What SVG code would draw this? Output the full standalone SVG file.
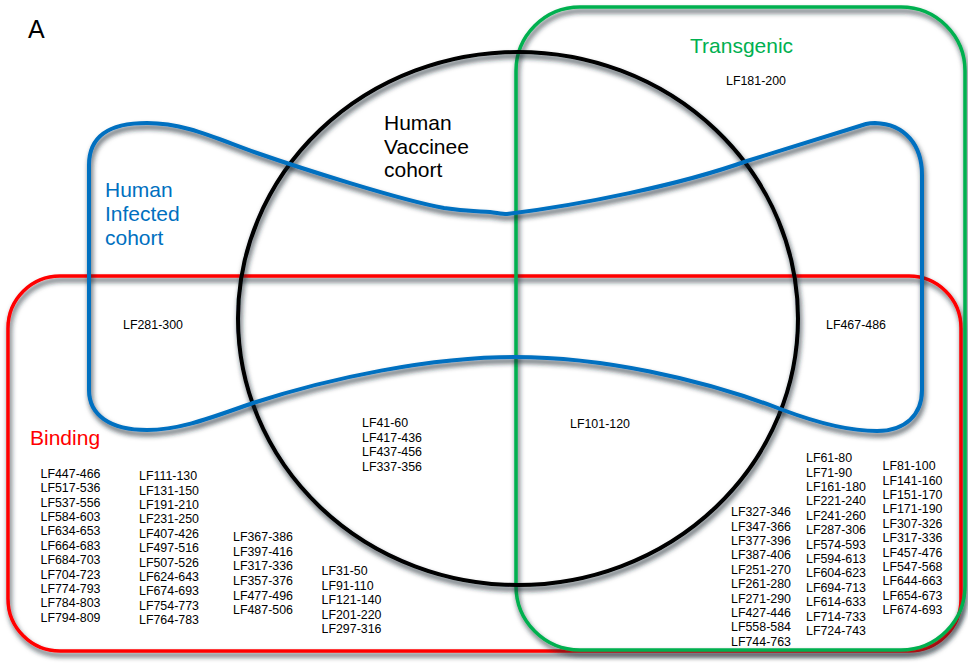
<svg xmlns="http://www.w3.org/2000/svg" width="968" height="664" viewBox="0 0 968 664">
<defs>
<filter id="sh" x="-10%" y="-10%" width="120%" height="125%">
<feDropShadow dx="1.5" dy="4" stdDeviation="2.5" flood-color="#1e2833" flood-opacity="0.8"/>
</filter>
<style>
.set{fill:none;filter:url(#sh)}
.lbl{font-family:"Liberation Sans",Arial,sans-serif;font-size:21px}
.lf{font-family:"Liberation Sans",Arial,sans-serif;font-size:12.4px;fill:#000}
</style>
</defs>
<rect width="968" height="664" fill="#fff"/>
<g id="binding">
<rect class="set" x="8" y="276" width="953" height="375" rx="52" ry="52" stroke="#ff0000" stroke-width="3.5"/>
</g>
<g id="transgenic">
<rect class="set" x="516" y="7" width="449" height="643" rx="64" ry="64" stroke="#00b050" stroke-width="3.5"/>
</g>
<g id="vaccinee">
<ellipse class="set" cx="518" cy="318.5" rx="280" ry="266.5" stroke="#000" stroke-width="4"/>
</g>
<g id="infected">
<path class="set" stroke="#0070c0" stroke-width="4" d="M89,390 L89,165 C89,135 110,123 147,123 C185,123 215,138 257,153 C300,168 400,200 444,208 C470,212 480,211 490,212 C498,213 502,214 507,214 C580,205 680,185 747,161 L866,124 C870,123 872,123 875,123 C905,124 922,145 922,175 L922,390 C922,415 905,431 877,431 C850,431 815,422 783,410 C700,378 600,357 515,357 C430,357 330,378 253,403 C210,418 180,430 147,430 C110,430 89,415 89,390 Z"/>
</g>
<g id="labels">
<text class="lbl" x="28" y="38" style="font-size:25px">A</text>
<text class="lbl" x="690" y="53" fill="#00b050">Transgenic</text>
<text class="lbl" fill="#000"><tspan x="384" y="130">Human</tspan><tspan x="384" y="153.5">Vaccinee</tspan><tspan x="384" y="177">cohort</tspan></text>
<text class="lbl" fill="#0070c0"><tspan x="105" y="197">Human</tspan><tspan x="105" y="221">Infected</tspan><tspan x="105" y="245">cohort</tspan></text>
<text class="lbl" x="30" y="445" fill="#ff0000">Binding</text>
</g>
<g id="epitopes">
<text class="lf" x="726" y="85">LF181-200</text>
<text class="lf" x="123" y="329">LF281-300</text>
<text class="lf" x="826" y="329">LF467-486</text>
<text class="lf" x="570" y="427.5">LF101-120</text>
<text class="lf"><tspan x="362" y="427">LF41-60</tspan><tspan x="362" y="441.7">LF417-436</tspan><tspan x="362" y="456.4">LF437-456</tspan><tspan x="362" y="471">LF337-356</tspan></text>
<text class="lf"><tspan x="40.5" y="477.8">LF447-466</tspan><tspan x="40.5" y="492.2">LF517-536</tspan><tspan x="40.5" y="506.6">LF537-556</tspan><tspan x="40.5" y="521">LF584-603</tspan><tspan x="40.5" y="535.4">LF634-653</tspan><tspan x="40.5" y="549.8">LF664-683</tspan><tspan x="40.5" y="564.2">LF684-703</tspan><tspan x="40.5" y="578.6">LF704-723</tspan><tspan x="40.5" y="593">LF774-793</tspan><tspan x="40.5" y="607.4">LF784-803</tspan><tspan x="40.5" y="621.8">LF794-809</tspan></text>
<text class="lf"><tspan x="139" y="480.2">LF111-130</tspan><tspan x="139" y="494.6">LF131-150</tspan><tspan x="139" y="509">LF191-210</tspan><tspan x="139" y="523.4">LF231-250</tspan><tspan x="139" y="537.8">LF407-426</tspan><tspan x="139" y="552.2">LF497-516</tspan><tspan x="139" y="566.6">LF507-526</tspan><tspan x="139" y="581">LF624-643</tspan><tspan x="139" y="595.4">LF674-693</tspan><tspan x="139" y="609.8">LF754-773</tspan><tspan x="139" y="624.2">LF764-783</tspan></text>
<text class="lf"><tspan x="233" y="541.2">LF367-386</tspan><tspan x="233" y="555.8">LF397-416</tspan><tspan x="233" y="570.4">LF317-336</tspan><tspan x="233" y="585">LF357-376</tspan><tspan x="233" y="599.6">LF477-496</tspan><tspan x="233" y="614.2">LF487-506</tspan></text>
<text class="lf"><tspan x="321.5" y="575.2">LF31-50</tspan><tspan x="321.5" y="589.7">LF91-110</tspan><tspan x="321.5" y="604.2">LF121-140</tspan><tspan x="321.5" y="618.7">LF201-220</tspan><tspan x="321.5" y="633.2">LF297-316</tspan></text>
<text class="lf"><tspan x="731" y="516.2">LF327-346</tspan><tspan x="731" y="530.6">LF347-366</tspan><tspan x="731" y="545">LF377-396</tspan><tspan x="731" y="559.4">LF387-406</tspan><tspan x="731" y="573.8">LF251-270</tspan><tspan x="731" y="588.2">LF261-280</tspan><tspan x="731" y="602.6">LF271-290</tspan><tspan x="731" y="617">LF427-446</tspan><tspan x="731" y="631.4">LF558-584</tspan><tspan x="731" y="645.8">LF744-763</tspan></text>
<text class="lf"><tspan x="806" y="462.2">LF61-80</tspan><tspan x="806" y="476.6">LF71-90</tspan><tspan x="806" y="491">LF161-180</tspan><tspan x="806" y="505.4">LF221-240</tspan><tspan x="806" y="519.8">LF241-260</tspan><tspan x="806" y="534.2">LF287-306</tspan><tspan x="806" y="548.6">LF574-593</tspan><tspan x="806" y="563">LF594-613</tspan><tspan x="806" y="577.4">LF604-623</tspan><tspan x="806" y="591.8">LF694-713</tspan><tspan x="806" y="606.2">LF614-633</tspan><tspan x="806" y="620.6">LF714-733</tspan><tspan x="806" y="635">LF724-743</tspan></text>
<text class="lf"><tspan x="882.5" y="470.2">LF81-100</tspan><tspan x="882.5" y="484.6">LF141-160</tspan><tspan x="882.5" y="499">LF151-170</tspan><tspan x="882.5" y="513.4">LF171-190</tspan><tspan x="882.5" y="527.8">LF307-326</tspan><tspan x="882.5" y="542.2">LF317-336</tspan><tspan x="882.5" y="556.6">LF457-476</tspan><tspan x="882.5" y="571">LF547-568</tspan><tspan x="882.5" y="585.4">LF644-663</tspan><tspan x="882.5" y="599.8">LF654-673</tspan><tspan x="882.5" y="614.2">LF674-693</tspan></text>
</g>
</svg>
